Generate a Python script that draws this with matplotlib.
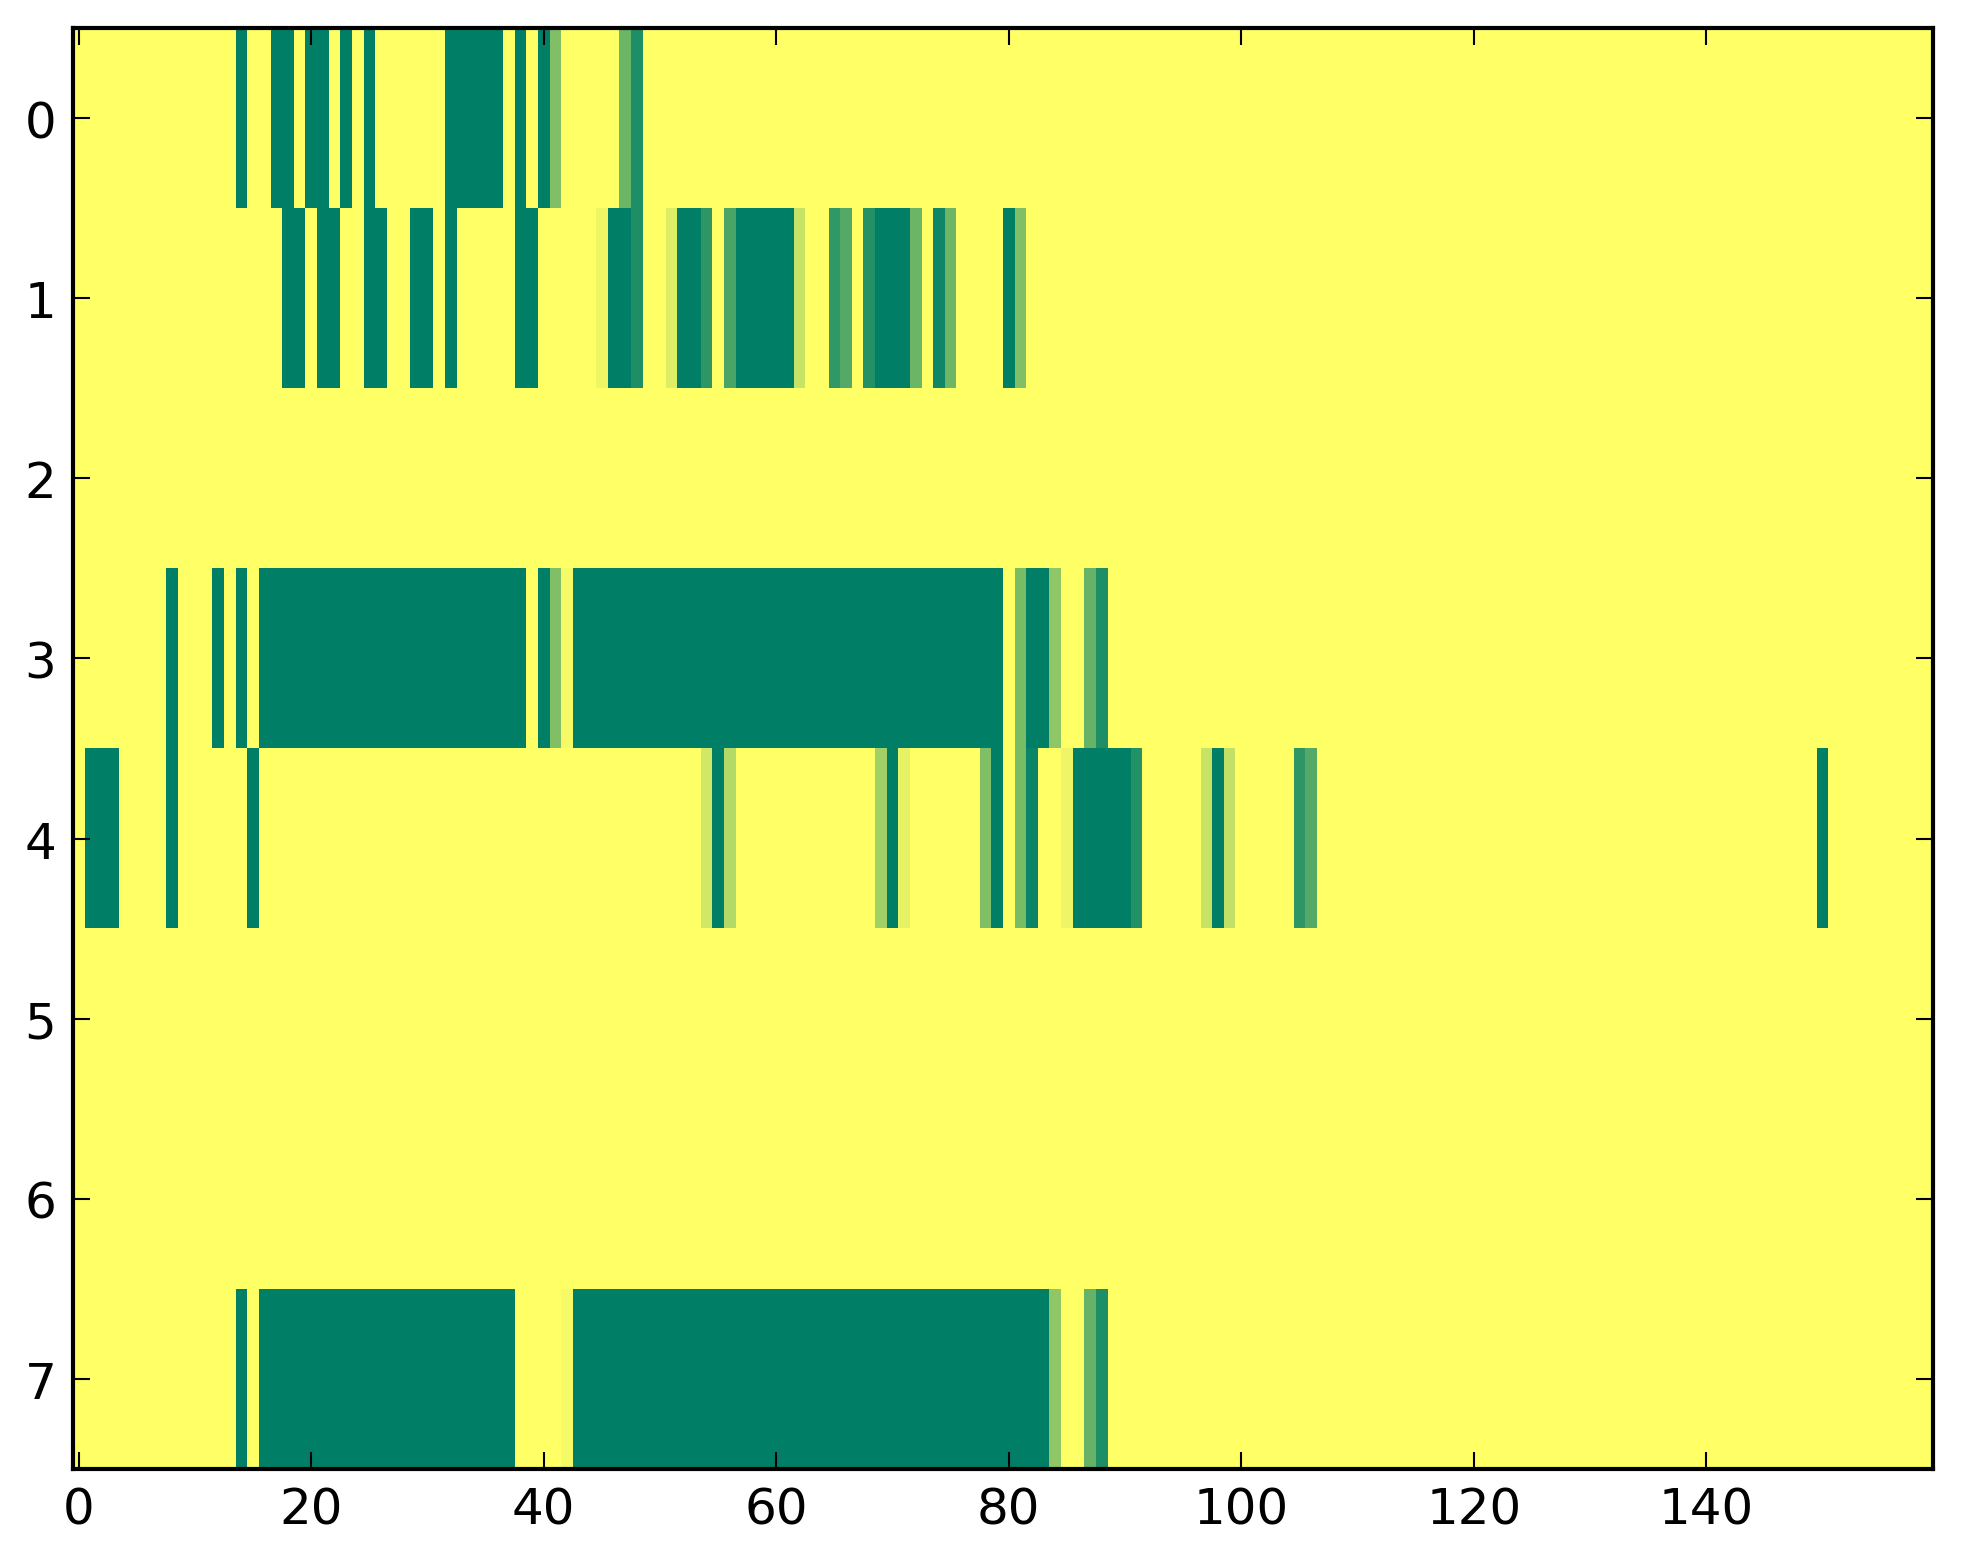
import numpy as np
import matplotlib
matplotlib.use("Agg")
import matplotlib.pyplot as plt

n_rows = 8
n_cols = 160
background = 1.0

# non-background cells per row: (first_col, last_col, value)
row0 = [(14, 14, 0.0), (17, 18, 0.0), (20, 21, 0.0), (23, 23, 0.0), (25, 25, 0.0),
        (32, 36, 0.0), (38, 38, 0.0), (40, 40, 0.0), (41, 41, 0.5),
        (47, 47, 0.42), (48, 48, 0.12)]
row1 = [(18, 19, 0.0), (21, 22, 0.0), (25, 26, 0.0), (29, 30, 0.0), (32, 32, 0.0),
        (38, 39, 0.0), (45, 45, 0.93), (46, 47, 0.0), (48, 48, 0.12),
        (51, 51, 0.86), (52, 53, 0.0), (54, 54, 0.18), (56, 56, 0.29),
        (57, 61, 0.0), (62, 62, 0.78), (65, 65, 0.19), (66, 66, 0.33),
        (68, 68, 0.14), (69, 71, 0.0), (72, 72, 0.42), (74, 74, 0.06),
        (75, 75, 0.43), (80, 80, 0.0), (81, 81, 0.5)]
row2 = []
row3 = [(8, 8, 0.0), (12, 12, 0.0), (14, 14, 0.0), (16, 38, 0.0), (40, 40, 0.0),
        (41, 41, 0.5), (42, 42, 0.96), (43, 79, 0.0), (81, 81, 0.48),
        (82, 83, 0.0), (84, 84, 0.56), (87, 87, 0.4), (88, 88, 0.12)]
row4 = [(1, 3, 0.0), (8, 8, 0.0), (15, 15, 0.0), (54, 54, 0.82), (55, 55, 0.0),
        (56, 56, 0.7), (69, 69, 0.63), (70, 70, 0.0), (71, 71, 0.9),
        (78, 78, 0.5), (79, 79, 0.0), (81, 81, 0.48), (82, 82, 0.04),
        (85, 85, 0.93), (86, 90, 0.0), (91, 91, 0.14), (97, 97, 0.78),
        (98, 98, 0.0), (99, 99, 0.76), (105, 105, 0.18), (106, 106, 0.33),
        (150, 150, 0.0)]
row5 = []
row6 = []
row7 = [(14, 14, 0.0), (16, 37, 0.0), (42, 42, 0.96), (43, 83, 0.0),
        (84, 84, 0.56), (87, 87, 0.4), (88, 88, 0.12)]

rows = [row0, row1, row2, row3, row4, row5, row6, row7]

data = np.full((n_rows, n_cols), background)
for r, runs in enumerate(rows):
    for a, b, v in runs:
        data[r, a:b + 1] = v

x_ticks = [0, 20, 40, 60, 80, 100, 120, 140]
y_ticks = list(range(n_rows))

plt.rcParams['font.family'] = ['DejaVu Sans']
fig = plt.figure(figsize=(1963 / 300, 1564 / 300), dpi=300, facecolor='white')
ax = fig.add_axes([73 / 1963, 1 - 1470 / 1564, (1933 - 73) / 1963, (1470 - 29) / 1564])
ax.imshow(data, cmap='summer', vmin=0, vmax=1, aspect='auto', interpolation='nearest')
ax.set_xticks(x_ticks)
ax.set_yticks(y_ticks)
ax.tick_params(direction='in', length=4, width=0.5, top=True, right=True,
               labelsize=12, pad=4)
for s in ax.spines.values():
    s.set_linewidth(1.0)
fig.savefig('out.png', dpi=300, facecolor='white')
